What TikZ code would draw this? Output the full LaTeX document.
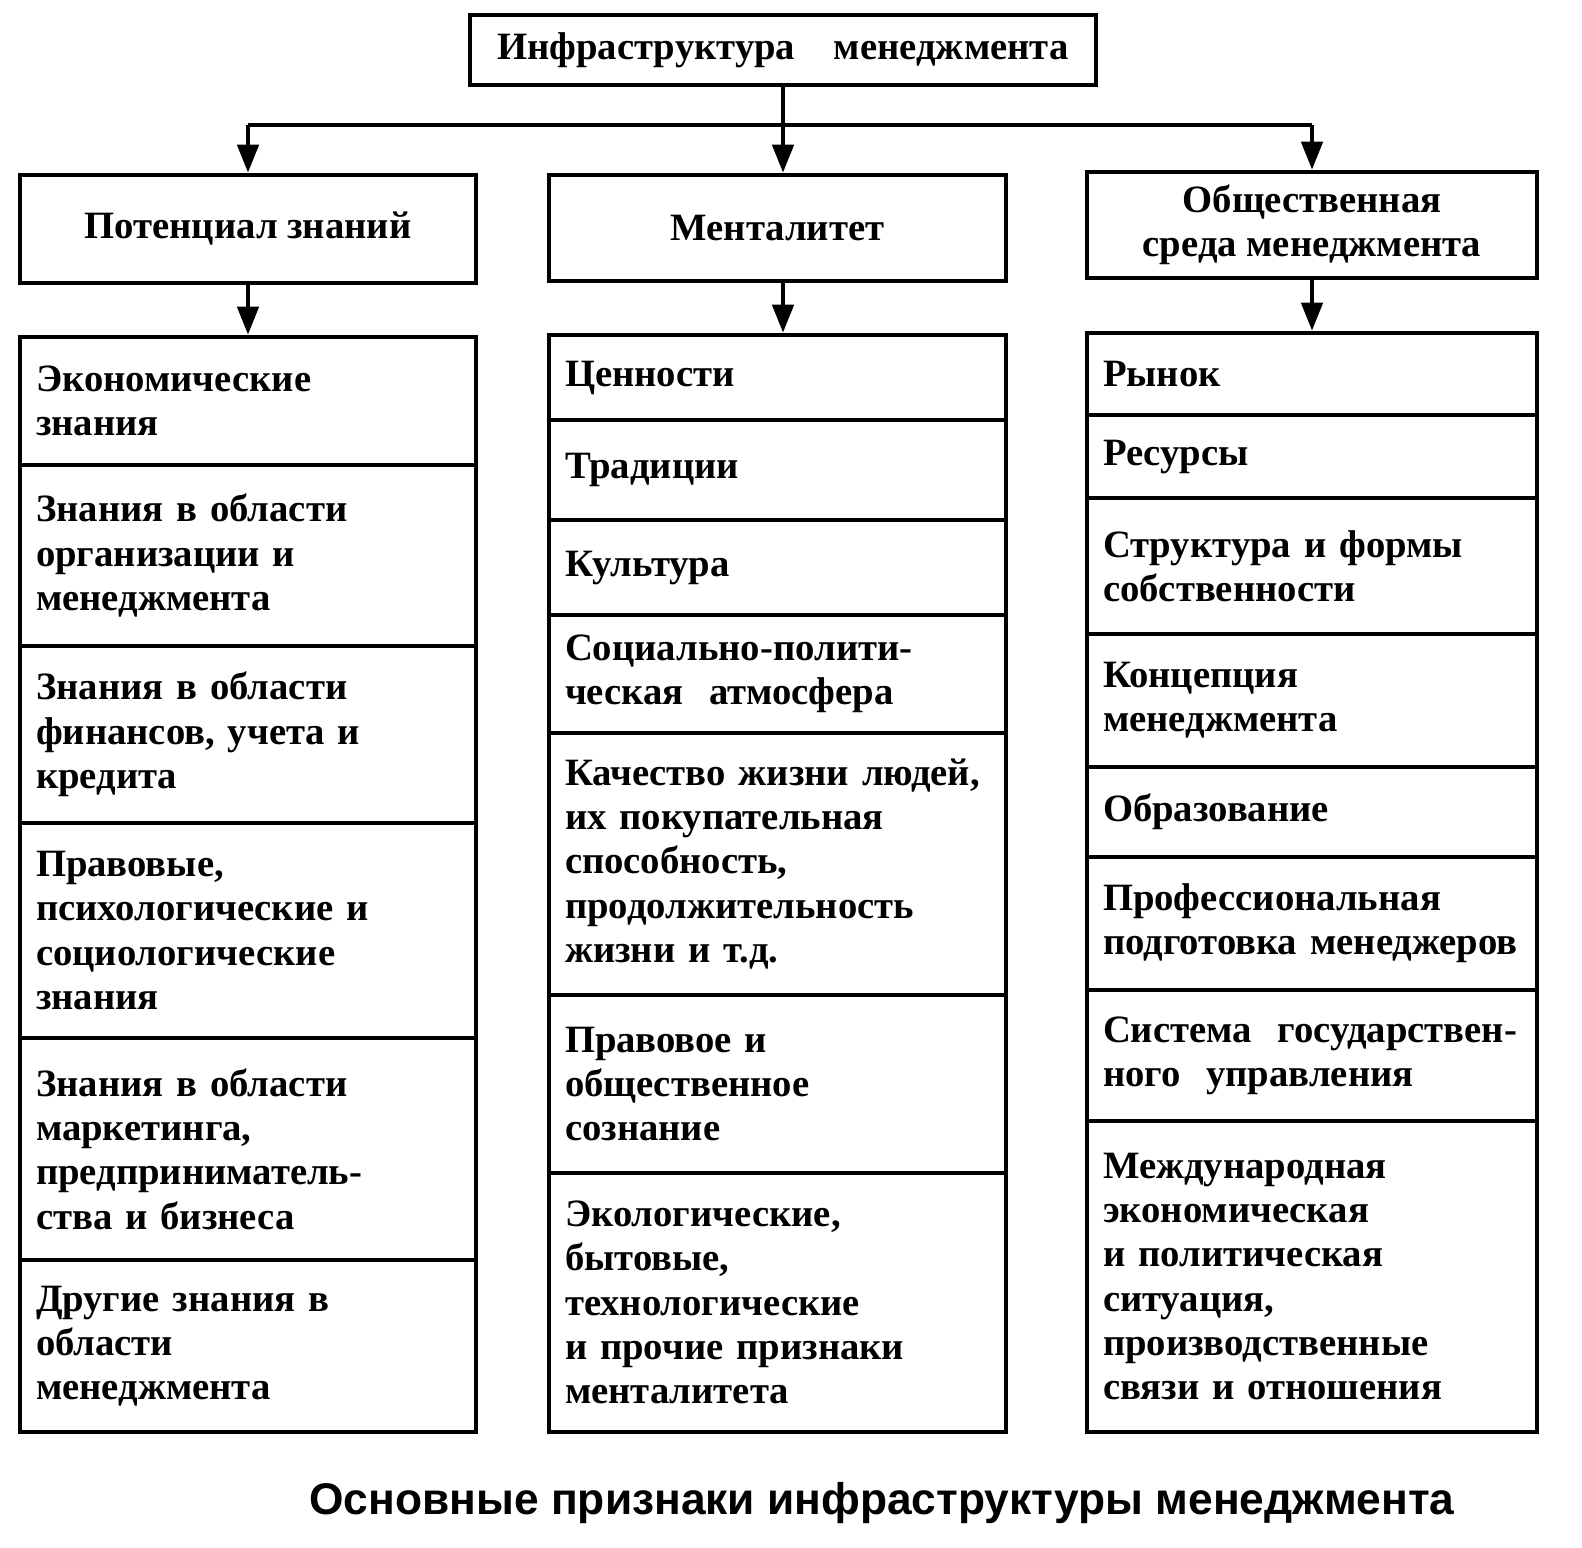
\documentclass[tikz,border=0pt]{standalone}
\usepackage{fontspec}
\setmainfont{Liberation Serif}
\newfontfamily\capfont{Liberation Sans}
\usetikzlibrary{arrows.meta}
\tikzset{
  boxline/.style={draw, line width=1.3pt},
  arr/.style={line width=1.3pt, -{Triangle[length=8pt,width=6pt]}},
  celltext/.style={font=\fontsize{11pt}{12.6pt}\selectfont\bfseries, align=left},
  headtext/.style={font=\fontsize{11pt}{12.6pt}\selectfont\bfseries, align=center}
}
\newcommand\cellbox[6]{%
  \node[boxline, celltext, inner sep=0pt, minimum width={(#4-#2)*0.01cm}, minimum height={(#5-#3)*0.01cm}, text width={(#4-#2-32)*0.01cm}]
    (#1) at ({(#2+#4)/2},{(#3+#5)/2}) {#6};}
\newcommand\headbox[6]{%
  \node[boxline, headtext, inner sep=0pt, minimum width={(#4-#2)*0.01cm}, minimum height={(#5-#3)*0.01cm}]
    (#1) at ({(#2+#4)/2},{(#3+#5)/2}) {#6};}
\begin{document}
\begin{tikzpicture}[x=0.01cm,y=-0.01cm]
\useasboundingbox (0,0) rectangle (1582,1547);
\headbox{top}{470}{15}{1096}{85}{Инфраструктура\quad менеджмента}
\headbox{h1}{20}{175}{476}{283}{Потенциал знаний}
\headbox{h2}{549}{175}{1006}{281}{Менталитет}
\headbox{h3}{1087}{172}{1537}{278}{Общественная\\среда менеджмента}
% left
\cellbox{a1}{20}{337}{476}{465}{Экономические\\знания}
\cellbox{a2}{20}{465}{476}{646}{Знания в области\\организации и\\менеджмента}
\cellbox{a3}{20}{646}{476}{823}{Знания в области\\финансов, учета и\\кредита}
\cellbox{a4}{20}{823}{476}{1038}{Правовые,\\психологические и\\социологические\\знания}
\cellbox{a5}{20}{1038}{476}{1260}{Знания в области\\маркетинга,\\предприниматель-\\ства и бизнеса}
\cellbox{a6}{20}{1260}{476}{1432}{Другие знания в\\области\\менеджмента}
% middle
\cellbox{b1}{549}{335}{1006}{420}{Ценности}
\cellbox{b2}{549}{420}{1006}{520}{Традиции}
\cellbox{b3}{549}{520}{1006}{615}{Культура}
\cellbox{b4}{549}{615}{1006}{733}{Социально-полити-\\ческая\ \ атмосфера}
\cellbox{b5}{549}{733}{1006}{995}{Качество жизни людей,\\их покупательная\\способность,\\продолжительность\\жизни и т.д.}
\cellbox{b6}{549}{995}{1006}{1173}{Правовое и\\общественное\\сознание}
\cellbox{b7}{549}{1173}{1006}{1432}{Экологические,\\бытовые,\\технологические\\и прочие признаки\\менталитета}
% right
\cellbox{c1}{1087}{333}{1537}{415}{Рынок}
\cellbox{c2}{1087}{415}{1537}{498}{Ресурсы}
\cellbox{c3}{1087}{498}{1537}{634}{Структура и формы\\собственности}
\cellbox{c4}{1087}{634}{1537}{767}{Концепция\\менеджмента}
\cellbox{c5}{1087}{767}{1537}{857}{Образование}
\cellbox{c6}{1087}{857}{1537}{990}{Профессиональная\\подготовка менеджеров}
\cellbox{c7}{1087}{990}{1537}{1121}{Система\ \ государствен-\\ного\ \ управления}
\cellbox{c8}{1087}{1121}{1537}{1432}{Международная\\экономическая\\и политическая\\ситуация,\\производственные\\связи и отношения}
% connectors
\coordinate (j) at (top.south |- 0,125);
\draw[line width=1.3pt] (top.south) -- (j);
\draw[line width=1.3pt] (h1.north |- j) -- (h3.north |- j);
\draw[arr] (h1.north |- j) -- (h1.north);
\draw[arr] (j) -- (h2.north -| j);
\draw[arr] (h3.north |- j) -- (h3.north);
\draw[arr] (h1.south) -- (a1.north);
\draw[arr] (h2.south -| j) -- (b1.north -| j);
\draw[arr] (h3.south) -- (c1.north);
\node[font=\capfont\fontsize{12.6pt}{15pt}\selectfont\bfseries] (cap) at (882,1503) {Основные признаки инфраструктуры менеджмента};
\end{tikzpicture}
\end{document}
